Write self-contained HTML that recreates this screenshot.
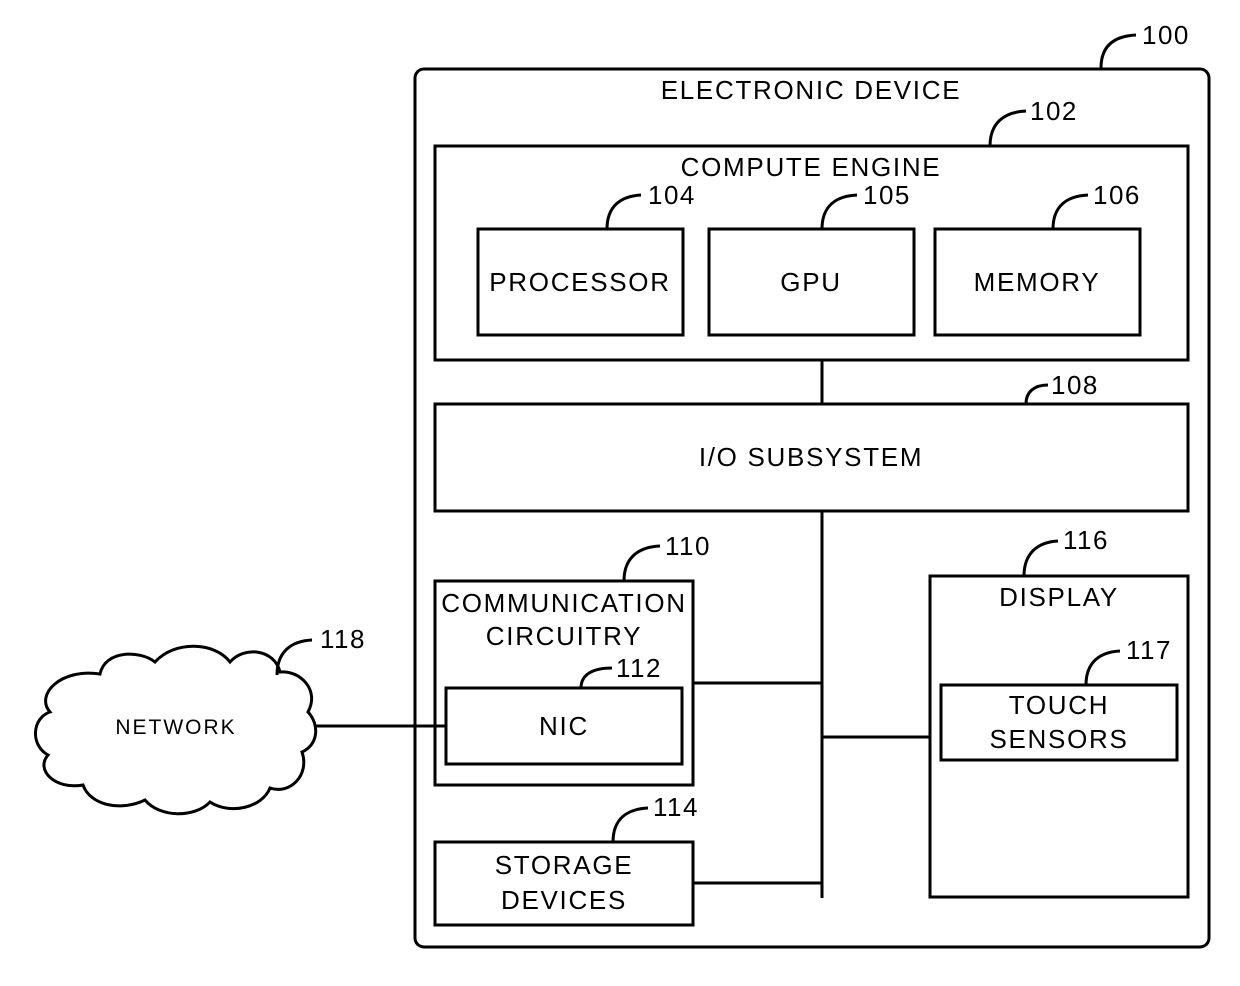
<!DOCTYPE html><html><head><style>body{margin:0;background:#fff}svg{display:block}text{font-family:"Liberation Sans",sans-serif;fill:#000}</style></head><body>
<svg width="1240" height="986" viewBox="0 0 1240 986" xmlns="http://www.w3.org/2000/svg">
<g fill="none" stroke="#000" stroke-width="3">
<rect x="415" y="69" width="794" height="878" rx="9"/>
<rect x="435" y="146" width="753" height="214"/>
<rect x="478" y="229" width="205" height="106"/>
<rect x="709" y="229" width="205" height="106"/>
<rect x="935" y="229" width="205" height="106"/>
<rect x="435" y="404" width="753" height="107"/>
<rect x="435" y="581" width="258" height="204"/>
<rect x="446" y="688" width="236" height="76"/>
<rect x="435" y="842" width="258" height="83"/>
<rect x="930" y="576" width="258" height="321"/>
<rect x="941" y="685" width="236" height="75"/>
<path d="M822 360V404M822 511V898M693 683H822M822 737H930M693 883H822M315 726H446"/>
<path d="M1101 68C1101 45 1115 36 1136 35"/>
<path d="M990 146C990 123 1004 112 1026 111"/>
<path d="M607 229C607 206 621 196 641 195"/>
<path d="M822 229C822 206 836 196 857 195"/>
<path d="M1053 229C1053 206 1067 196 1088 195"/>
<path d="M1026 404C1026 392 1034 385 1048 385"/>
<path d="M624 581C624 558 638 547 660 546"/>
<path d="M581 688C581 675 592 668 612 668"/>
<path d="M613 842C613 819 627 809 648 808"/>
<path d="M1024 576C1024 553 1038 542 1058 541"/>
<path d="M1086 685C1086 662 1100 652 1120 651"/>
<path d="M277 675C277 652 291 641 312 640"/>
<path d="M100 674C105 650 140 650 155 662C175 640 215 642 230 662C245 645 275 650 280 672C300 670 320 690 308 712C320 725 318 745 302 752C310 775 290 795 270 788C262 808 230 815 210 802C195 818 160 818 145 800C120 812 90 805 83 785C55 790 35 770 48 755C30 745 32 718 50 712C35 695 60 668 100 674Z"/>
</g>
<g font-size="26" text-anchor="middle" letter-spacing="1.7">
<text x="811" y="99">ELECTRONIC DEVICE</text>
<text x="811" y="176">COMPUTE ENGINE</text>
<text x="580" y="291">PROCESSOR</text>
<text x="811" y="291">GPU</text>
<text x="1037" y="291">MEMORY</text>
<text x="811" y="466">I/O SUBSYSTEM</text>
<text x="564" y="612">COMMUNICATION</text>
<text x="564" y="645">CIRCUITRY</text>
<text x="564" y="735">NIC</text>
<text x="564" y="874">STORAGE</text>
<text x="564" y="909">DEVICES</text>
<text x="1059" y="606">DISPLAY</text>
<text x="1059" y="714">TOUCH</text>
<text x="1059" y="748">SENSORS</text>
</g>
<text x="176" y="734" font-size="21" text-anchor="middle" letter-spacing="2">NETWORK</text>
<g font-size="26" letter-spacing="1.5">
<text x="1142" y="44">100</text>
<text x="1030" y="120">102</text>
<text x="648" y="204">104</text>
<text x="863" y="204">105</text>
<text x="1093" y="204">106</text>
<text x="1051" y="394">108</text>
<text x="665" y="555">110</text>
<text x="616" y="677">112</text>
<text x="653" y="816">114</text>
<text x="1063" y="549">116</text>
<text x="1126" y="659">117</text>
<text x="320" y="648">118</text>
</g>
</svg></body></html>
